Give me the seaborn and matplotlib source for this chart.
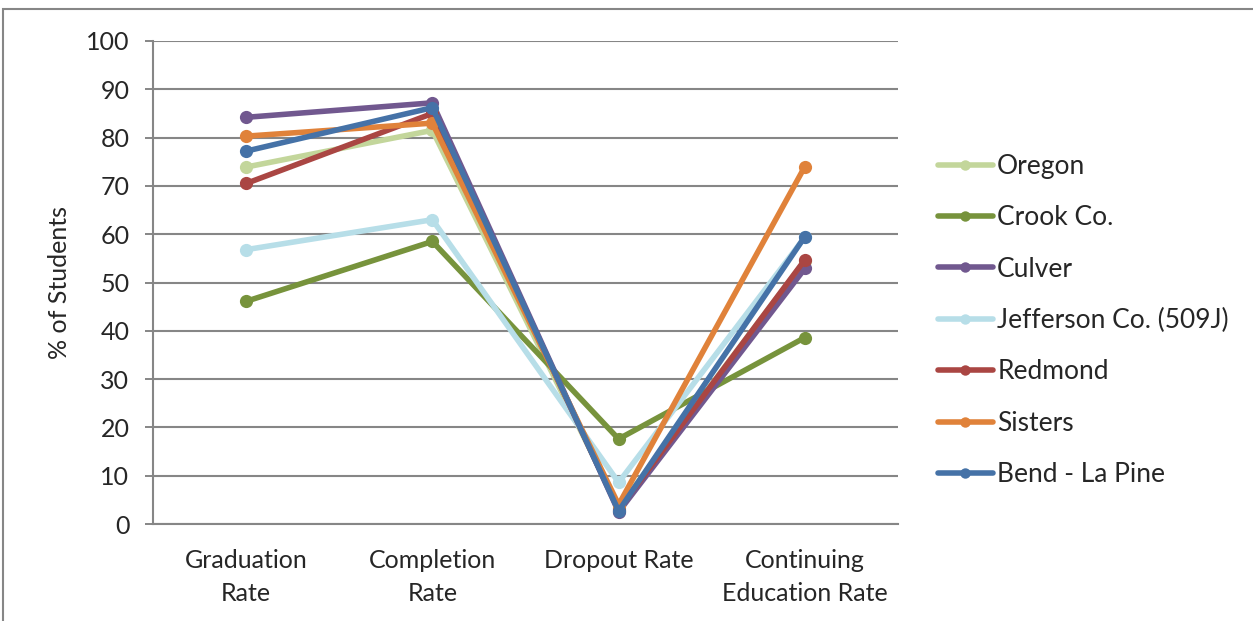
import matplotlib
matplotlib.use("Agg")
import matplotlib.pyplot as plt
from matplotlib.patches import Rectangle
import seaborn as sns
import pandas as pd

categories = ["Graduation\nRate", "Completion\nRate", "Dropout Rate", "Continuing\nEducation Rate"]
districts = ["Oregon", "Crook Co.", "Culver", "Jefferson Co. (509J)", "Redmond", "Sisters", "Bend - La Pine"]

oregon = [73.9, 81.5, 3.4, 54.5]
crook = [46.1, 58.5, 17.6, 38.6]
culver = [84.2, 87.2, 2.5, 52.9]
jefferson = [56.8, 63.0, 8.6, 59.4]
redmond = [70.5, 85.0, 3.0, 54.7]
sisters = [80.3, 83.0, 4.0, 74.0]
bend = [77.2, 86.2, 2.7, 59.5]

colors = ["#C3D69B", "#77933C", "#71588F", "#B7DEE8", "#AA4643", "#E0823A", "#4572A7"]

series = [oregon, crook, culver, jefferson, redmond, sisters, bend]
rows = []
for name, vals in zip(districts, series):
    for i, v in enumerate(vals):
        rows.append({"pos": i, "District": name, "value": v})
df = pd.DataFrame(rows)

sns.set_style("white")
plt.rcParams["font.family"] = ["Lato", "DejaVu Sans"]

fig = plt.figure(figsize=(12.53, 6.21), dpi=100)
ax = fig.add_axes([153 / 1253, 1 - 524 / 621, 745 / 1253, 483 / 621])

sns.lineplot(data=df, x="pos", y="value", hue="District", hue_order=districts,
             palette=colors, marker="o", markersize=9.5, markeredgewidth=0,
             linewidth=4, ax=ax, legend=True)

ax.set_xlim(-0.5, 3.5)
ax.set_ylim(0, 100)
ax.set_yticks(range(0, 101, 10))
ax.tick_params(axis="y", labelsize=18, length=6, width=1.4, color="#868686",
               direction="out", left=True, pad=11)
ax.set_xticks(range(4))
ax.set_xticklabels(categories, fontsize=18, linespacing=1.55)
ax.set_xticks([-0.5, 0.5, 1.5, 2.5, 3.5], minor=True)
ax.tick_params(axis="x", which="major", length=0, pad=18)
ax.tick_params(axis="x", which="minor", length=6, width=1.4, color="#868686", direction="out")
ax.grid(axis="y", color="#868686", linewidth=1.5)
ax.set_axisbelow(True)
for s in ["top", "right"]:
    ax.spines[s].set_visible(False)
for s in ["left", "bottom"]:
    ax.spines[s].set_color("#868686")
    ax.spines[s].set_linewidth(1.5)
ax.set_xlabel("")
ax.set_ylabel("% of Students", fontsize=18, labelpad=11)

handles, labels = ax.get_legend_handles_labels()
ax.get_legend().remove()
for h in handles:
    h.set_markersize(7.5)
    h.set_linewidth(4)
fig.legend(handles, labels, loc="upper left", bbox_to_anchor=(914 / 1253, 1 - 130 / 621),
           frameon=False, fontsize=19, handlelength=2.1, handletextpad=0.15,
           labelspacing=1.0)

fig.patches.append(Rectangle((3 / 1253, -0.05), 1.2, 1 - 9 / 621 + 0.05,
                             transform=fig.transFigure, fill=False,
                             edgecolor="#868686", linewidth=1.5))

fig.savefig("out.png", dpi=100)
